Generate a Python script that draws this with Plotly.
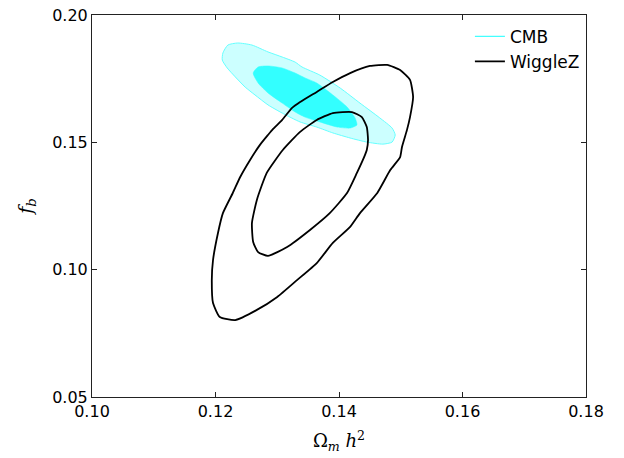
import plotly.graph_objects as go

# CMB contours (omega_m h^2, f_b)
cmb_outer_x = [0.1211, 0.1212, 0.1220, 0.1236, 0.1259, 0.1285, 0.1308, 0.1329, 0.1340, 0.1369,
               0.1402, 0.1434, 0.1466, 0.1486, 0.1491, 0.1486, 0.1471, 0.1445, 0.1418, 0.1390,
               0.1364, 0.1337, 0.1308, 0.1285, 0.1264, 0.1248, 0.1232, 0.1219]
cmb_outer_y = [0.1823, 0.1851, 0.1882, 0.1890, 0.1882, 0.1855, 0.1835, 0.1815, 0.1796, 0.1764,
               0.1713, 0.1654, 0.1596, 0.1556, 0.1529, 0.1501, 0.1493, 0.1501, 0.1517, 0.1537,
               0.1560, 0.1580, 0.1615, 0.1647, 0.1686, 0.1717, 0.1757, 0.1792]
cmb_inner_x = [0.1261, 0.1269, 0.1285, 0.1308, 0.1329, 0.1345, 0.1364, 0.1390, 0.1413, 0.1426,
               0.1429, 0.1418, 0.1397, 0.1369, 0.1345, 0.1329, 0.1308, 0.1285, 0.1269]
cmb_inner_y = [0.1772, 0.1796, 0.1800, 0.1792, 0.1772, 0.1753, 0.1733, 0.1686, 0.1639, 0.1596,
               0.1568, 0.1556, 0.1560, 0.1580, 0.1599, 0.1619, 0.1654, 0.1694, 0.1733]

# WiggleZ contours
wz_outer_x = [0.1293, 0.1308, 0.1324, 0.1337, 0.1364, 0.1390, 0.1418, 0.1450, 0.1478, 0.1499,
              0.1515, 0.1520, 0.1515, 0.1510, 0.1502, 0.1499, 0.1483, 0.1462, 0.1434, 0.1418,
              0.1390, 0.1364, 0.1332, 0.1300, 0.1267, 0.1232, 0.1207, 0.1196, 0.1194, 0.1196,
              0.1204, 0.1212, 0.1228, 0.1240, 0.1256, 0.1272, 0.1285]
wz_outer_y = [0.1552, 0.1588, 0.1635, 0.1658, 0.1698, 0.1737, 0.1772, 0.1800, 0.1804, 0.1784,
              0.1745, 0.1678, 0.1599, 0.1548, 0.1482, 0.1442, 0.1391, 0.1301, 0.1222, 0.1168,
              0.1105, 0.1026, 0.0959, 0.0893, 0.0842, 0.0802, 0.0814, 0.0869, 0.0959, 0.1038,
              0.1144, 0.1222, 0.1301, 0.1364, 0.1431, 0.1490, 0.1529]
wz_inner_x = [0.1261, 0.1259, 0.1267, 0.1283, 0.1309, 0.1337, 0.1364, 0.1390, 0.1421, 0.1437,
              0.1445, 0.1447, 0.1445, 0.1442, 0.1429, 0.1413, 0.1385, 0.1353, 0.1316, 0.1285,
              0.1269]
wz_inner_y = [0.1109, 0.1183, 0.1274, 0.1380, 0.1470, 0.1541, 0.1588, 0.1615, 0.1619, 0.1599,
              0.1560, 0.1509, 0.1470, 0.1450, 0.1380, 0.1301, 0.1222, 0.1156, 0.1089, 0.1054,
              0.1069]

x_ticks = [0.10, 0.12, 0.14, 0.16, 0.18]
y_ticks = [0.05, 0.10, 0.15, 0.20]
series_names = ["CMB", "WiggleZ"]


def closed(a):
    return list(a) + [a[0]]


fig = go.Figure()
fig.add_trace(go.Scatter(x=closed(cmb_outer_x), y=closed(cmb_outer_y), mode="lines",
                         fill="toself", fillcolor="#ccffff", line=dict(color="#66ffff", width=1, shape="spline", smoothing=0.6),
                         showlegend=False, hoverinfo="skip"))
fig.add_trace(go.Scatter(x=closed(cmb_inner_x), y=closed(cmb_inner_y), mode="lines",
                         fill="toself", fillcolor="#33ffff", line=dict(color="#33ffff", width=0.5, shape="spline", smoothing=0.6),
                         showlegend=False, hoverinfo="skip"))
fig.add_trace(go.Scatter(x=closed(wz_outer_x), y=closed(wz_outer_y), mode="lines",
                         line=dict(color="black", width=1.8, shape="spline", smoothing=0.5),
                         showlegend=False, hoverinfo="skip"))
fig.add_trace(go.Scatter(x=closed(wz_inner_x), y=closed(wz_inner_y), mode="lines",
                         line=dict(color="black", width=1.8, shape="spline", smoothing=0.5),
                         showlegend=False, hoverinfo="skip"))
# legend entries
fig.add_trace(go.Scatter(x=[None], y=[None], mode="lines", name=series_names[0],
                         line=dict(color="#44ffff", width=1.2)))
fig.add_trace(go.Scatter(x=[None], y=[None], mode="lines", name=series_names[1],
                         line=dict(color="black", width=1.8)))

axis_common = dict(showgrid=False, zeroline=False, showline=True, linecolor="#222222", linewidth=1,
                   mirror="ticks", ticks="inside", ticklen=5, tickcolor="#222222",
                   automargin=False,
                   tickfont=dict(family="DejaVu Sans", size=16, color="black"))

fig.update_layout(
    width=624, height=458,
    margin=dict(l=92, r=38, t=15, b=61),
    plot_bgcolor="white", paper_bgcolor="white",
    xaxis=dict(range=[0.10, 0.18], tickvals=x_ticks, ticktext=[f"{v:.2f}" for v in x_ticks],
               title=dict(text="Ω<sub><i>m</i></sub> <i>h</i><sup>2</sup>",
                          font=dict(family="DejaVu Serif", size=18, color="black"), standoff=14),
               **axis_common),
    yaxis=dict(range=[0.05, 0.20], tickvals=y_ticks, ticktext=[f"{v:.2f}" for v in y_ticks],
               title=dict(text="<i>f</i><sub><i>b</i></sub>",
                          font=dict(family="DejaVu Serif", size=19, color="black"), standoff=14),
               **axis_common),
    legend=dict(x=0.765, y=0.99, xanchor="left", yanchor="top", bgcolor="rgba(0,0,0,0)",
                font=dict(family="DejaVu Sans", size=17, color="black"), tracegroupgap=0),
    showlegend=True,
)

fig.write_html("out.html", config={"displayModeBar": False},
               post_script="document.body.style.margin='0px';")
